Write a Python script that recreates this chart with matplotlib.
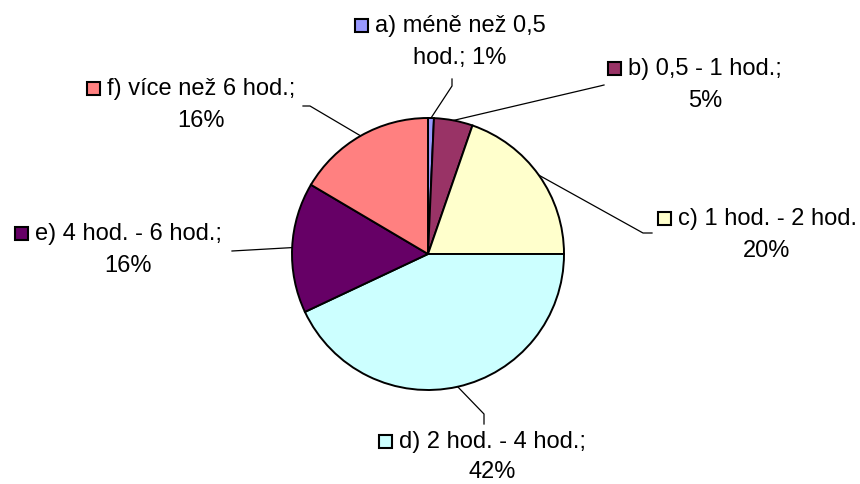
import matplotlib
matplotlib.use("Agg")
import math
import matplotlib.pyplot as plt
from matplotlib.patches import Rectangle

plt.rcParams['font.family'] = ['Liberation Sans', 'DejaVu Sans']

# data
categories = ["a) méně než 0,5", "b) 0,5 - 1 hod.;", "c) 1 hod. - 2 hod.",
              "d) 2 hod. - 4 hod.;", "e) 4 hod. - 6 hod.;", "f) více než 6 hod.;"]
second_lines = ["hod.; 1%", "5%", "20%", "42%", "16%", "16%"]
values = [0.7, 4.6, 19.7, 43.0, 15.5, 16.5]
colors = ["#9999FF", "#993366", "#FFFFCC", "#CCFFFF", "#660066", "#FF8080"]

W, H = 860, 484
def Y(y):
    return H - y

# layout (pixel positions, top-left origin)
cx, cy, r = 428, 254, 136
label_x = [460, 705, 767, 492, 128, 201]
label_base = [32, 75, 225, 448, 240, 95]
line_gap = [32, 32, 32, 30, 32, 32]
elbows = [[(452, 86), (452, 79)],
          [(600, 86), (604, 85)],
          [(643, 233), (652, 233)],
          [(484, 414), (484, 424)],
          [(232, 251)],
          [(310, 106), (303, 106)]]

fig = plt.figure(figsize=(W / 100, H / 100), dpi=100)
ax = fig.add_axes([0, 0, 1, 1])
ax.pie(values, colors=colors, startangle=90, counterclock=False,
       center=(cx, Y(cy)), radius=r,
       wedgeprops=dict(edgecolor='black', linewidth=1.4))
ax.set_xlim(0, W)
ax.set_ylim(0, H)
ax.set_aspect('equal')
ax.axis('off')

# leader lines from slice mid-angle
total = sum(values)
cum = 0
for i, v in enumerate(values):
    mid = (cum + v / 2) / total * 2 * math.pi
    cum += v
    sx = cx + r * math.sin(mid)
    sy = cy - r * math.cos(mid)
    pts = [(sx, sy)] + elbows[i]
    ax.plot([p[0] for p in pts], [Y(p[1]) for p in pts], color='black', lw=0.9)

texts = []
for i in range(len(categories)):
    t = ax.text(label_x[i], Y(label_base[i]), categories[i], ha='center',
                va='baseline', fontsize=17, color='black')
    ax.text(label_x[i], Y(label_base[i] + line_gap[i]), second_lines[i], ha='center',
            va='baseline', fontsize=17, color='black')
    texts.append(t)

fig.canvas.draw()
for i, t in enumerate(texts):
    bb = t.get_window_extent()
    x0 = bb.x0
    ax.add_patch(Rectangle((x0 - 7 - 13, Y(label_base[i])), 13, 13,
                           facecolor=colors[i], edgecolor='black', lw=1.5,
                           clip_on=False))

fig.savefig("out.png", dpi=100)
